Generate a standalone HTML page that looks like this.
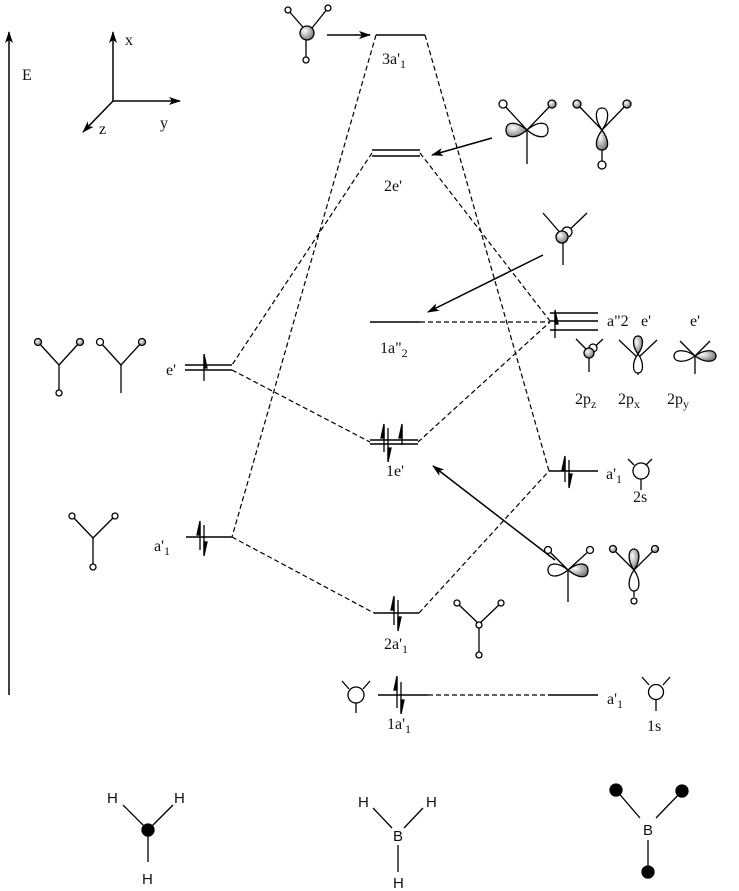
<!DOCTYPE html>
<html><head><meta charset="utf-8"><style>
html,body{margin:0;padding:0;background:#fff;}
svg{display:block;}
text{font-family:"Liberation Serif",serif;font-size:16px;fill:#111;}
.s{font-family:"Liberation Sans",sans-serif;font-size:15px;}
</style></head><body>
<svg width="739" height="891" viewBox="0 0 739 891" xmlns="http://www.w3.org/2000/svg">
<defs>
<radialGradient id="g" cx="0.35" cy="0.35" r="0.7"><stop offset="0" stop-color="#fff"/><stop offset="1" stop-color="#777"/></radialGradient>
<marker id="ah" markerWidth="12" markerHeight="8" refX="11" refY="4" orient="auto" markerUnits="userSpaceOnUse"><path d="M0,0 L12,4 L0,8 L3,4 Z" fill="#000"/></marker>
</defs>
<g stroke="#000" stroke-width="1.5" fill="none">
<line x1="9" y1="695" x2="9" y2="32" marker-end="url(#ah)"/>
<line x1="113" y1="101" x2="113" y2="32" marker-end="url(#ah)"/>
<line x1="113" y1="101" x2="180" y2="101" marker-end="url(#ah)"/>
<line x1="113" y1="101" x2="83" y2="132" marker-end="url(#ah)"/>
<line x1="376" y1="35" x2="425" y2="35"/>
<line x1="372" y1="150" x2="420" y2="150"/><line x1="372" y1="156" x2="420" y2="156"/>
<line x1="370" y1="322" x2="420" y2="322"/>
<line x1="550" y1="313" x2="598" y2="313"/><line x1="550" y1="321" x2="598" y2="321"/><line x1="550" y1="330" x2="598" y2="330"/>
<line x1="185" y1="365" x2="232" y2="365"/><line x1="185" y1="370" x2="232" y2="370"/>
<line x1="370" y1="440" x2="418" y2="440"/><line x1="370" y1="444" x2="418" y2="444"/>
<line x1="549" y1="471" x2="598" y2="471"/>
<line x1="186" y1="537" x2="232" y2="537"/>
<line x1="374" y1="613" x2="419" y2="613"/>
<line x1="378" y1="695" x2="428" y2="695"/>
<line x1="548" y1="695" x2="598" y2="695"/>
<line x1="327" y1="35" x2="370" y2="35" marker-end="url(#ah)"/>
<line x1="492" y1="138" x2="432" y2="155" marker-end="url(#ah)"/>
<line x1="543" y1="255" x2="428" y2="312" marker-end="url(#ah)"/>
<line x1="555" y1="560" x2="433" y2="466" marker-end="url(#ah)"/>
</g>
<g stroke="#000" stroke-width="1.2" fill="none" stroke-dasharray="5,3">
<line x1="376" y1="35" x2="232" y2="537"/>
<line x1="425" y1="35" x2="549" y2="471"/>
<line x1="372" y1="153" x2="232" y2="365"/>
<line x1="420" y1="153" x2="550" y2="321"/>
<line x1="232" y1="370" x2="370" y2="442"/>
<line x1="418" y1="442" x2="550" y2="322"/>
<line x1="420" y1="322" x2="550" y2="322"/>
<line x1="232" y1="537" x2="374" y2="613"/>
<line x1="419" y1="613" x2="549" y2="471"/>
<line x1="428" y1="695" x2="548" y2="695"/>
</g>
<g fill="#000" stroke="#000" stroke-width="1.3">
<line x1="204" y1="381" x2="204" y2="356"/><path d="M204,354 L207,368 L204,368Z"/>
<line x1="555" y1="338" x2="555" y2="312"/><path d="M555,310 L558,324 L555,324Z"/>
<line x1="384" y1="452" x2="384" y2="426"/><path d="M384,424 L381,438 L384,438Z"/>
<line x1="388" y1="428" x2="388" y2="460"/><path d="M388,462 L391,448 L388,448Z"/>
<line x1="402" y1="445" x2="402" y2="426"/><path d="M402,424 L399,438 L402,438Z"/>
<line x1="565" y1="482" x2="565" y2="458"/><path d="M565,456 L562,470 L565,470Z"/>
<line x1="569" y1="460" x2="569" y2="486"/><path d="M569,488 L572,474 L569,474Z"/>
<line x1="200" y1="550" x2="200" y2="523"/><path d="M200,521 L197,535 L200,535Z"/>
<line x1="204" y1="525" x2="204" y2="554"/><path d="M204,556 L207,542 L204,542Z"/>
<line x1="394" y1="625" x2="394" y2="598"/><path d="M394,596 L391,610 L394,610Z"/>
<line x1="398" y1="600" x2="398" y2="629"/><path d="M398,631 L401,617 L398,617Z"/>
<line x1="397" y1="708" x2="397" y2="678"/><path d="M397,676 L394,690 L397,690Z"/>
<line x1="401" y1="682" x2="401" y2="712"/><path d="M401,714 L404,700 L401,700Z"/>
</g>
<g stroke="#000" stroke-width="1.3" fill="#fff">
<line x1="288" y1="10" x2="308" y2="33"/><line x1="328" y1="8" x2="308" y2="33"/><line x1="306" y1="33" x2="306" y2="60"/>
<circle cx="288" cy="10" r="3"/><circle cx="328" cy="8" r="3"/><circle cx="306" cy="60" r="3"/>
<circle cx="307" cy="33" r="7" fill="url(#g)"/>
<line x1="503" y1="104" x2="527" y2="130"/><line x1="552" y1="104" x2="527" y2="130"/><line x1="527" y1="130" x2="527" y2="164"/>
<circle cx="503" cy="104" r="4"/><circle cx="552" cy="104" r="4" fill="url(#g)"/>
<path d="M527,130 C515,120 506,122 506,130 C506,138 515,140 527,130Z" fill="url(#g)"/>
<path d="M527,130 C539,120 548,122 548,130 C548,138 539,140 527,130Z"/>
<line x1="577" y1="104" x2="602" y2="130"/><line x1="627" y1="104" x2="602" y2="130"/><line x1="602" y1="130" x2="602" y2="162"/>
<circle cx="577" cy="104" r="4" fill="url(#g)"/><circle cx="627" cy="104" r="4" fill="url(#g)"/>
<path d="M602,130 C594,119 595,108 602,108 C609,108 610,119 602,130Z"/>
<path d="M602,130 C594,141 595,150 602,150 C609,150 610,141 602,130Z" fill="url(#g)"/>
<circle cx="602" cy="165" r="4"/>
<line x1="543" y1="213" x2="563" y2="236"/><line x1="587" y1="213" x2="563" y2="236"/><line x1="563" y1="236" x2="563" y2="265"/>
<circle cx="567" cy="232" r="5"/><circle cx="562" cy="237" r="6" fill="url(#g)"/>
<line x1="576" y1="339" x2="589" y2="352"/><line x1="603" y1="339" x2="589" y2="352"/><line x1="589" y1="352" x2="589" y2="372"/>
<circle cx="593" cy="348" r="4"/><circle cx="589" cy="353" r="5" fill="url(#g)"/>
<line x1="619" y1="340" x2="638" y2="358"/><line x1="657" y1="340" x2="638" y2="358"/><line x1="638" y1="358" x2="638" y2="375"/>
<path d="M638,354 C632,346 632,336 638,336 C644,336 644,346 638,354Z" fill="url(#g)"/>
<path d="M638,354 C632,362 632,373 638,373 C644,373 644,362 638,354Z"/>
<line x1="680" y1="341" x2="695" y2="356"/><line x1="710" y1="341" x2="695" y2="356"/><line x1="695" y1="356" x2="695" y2="374"/>
<path d="M695,356 C684,348 674,350 674,356 C674,362 684,364 695,356Z"/>
<path d="M695,356 C706,348 716,350 716,356 C716,362 706,364 695,356Z" fill="url(#g)"/>
<line x1="38" y1="342" x2="59" y2="365"/><line x1="80" y1="342" x2="59" y2="365"/><line x1="59" y1="365" x2="59" y2="392"/>
<circle cx="38" cy="342" r="3.5" fill="url(#g)"/><circle cx="80" cy="342" r="3.5" fill="url(#g)"/><circle cx="59" cy="393" r="3"/>
<line x1="100" y1="342" x2="121" y2="365"/><line x1="142" y1="342" x2="121" y2="365"/><line x1="121" y1="365" x2="121" y2="393"/>
<circle cx="100" cy="342" r="3.5"/><circle cx="142" cy="342" r="3.5" fill="url(#g)"/>
<line x1="628" y1="459" x2="634" y2="465"/><line x1="652" y1="459" x2="646" y2="465"/><line x1="641" y1="478" x2="641" y2="490"/>
<circle cx="641" cy="471" r="8"/>
<line x1="72" y1="516" x2="93" y2="538"/><line x1="115" y1="516" x2="93" y2="538"/><line x1="93" y1="538" x2="93" y2="566"/>
<circle cx="72" cy="516" r="3"/><circle cx="115" cy="516" r="3"/><circle cx="93" cy="567" r="3"/>
<line x1="548" y1="550" x2="568" y2="570"/><line x1="590" y1="550" x2="568" y2="570"/><line x1="568" y1="570" x2="568" y2="602"/>
<circle cx="548" cy="550" r="3.5"/><circle cx="590" cy="550" r="3.5"/>
<path d="M568,570 C557,561 548,563 548,570 C548,577 557,579 568,570Z"/>
<path d="M568,570 C579,561 588,563 588,570 C588,579 579,579 568,570Z" fill="url(#g)"/>
<line x1="613" y1="549" x2="634" y2="570"/><line x1="655" y1="549" x2="634" y2="570"/><line x1="634" y1="570" x2="634" y2="597"/>
<circle cx="613" cy="549" r="3.5" fill="url(#g)"/><circle cx="655" cy="549" r="3.5" fill="url(#g)"/>
<path d="M634,570 C627,560 628,549 634,549 C640,549 641,560 634,570Z" fill="url(#g)"/>
<path d="M634,570 C627,580 628,591 634,591 C640,591 641,580 634,570Z"/>
<circle cx="634" cy="601" r="3"/>
<line x1="457" y1="603" x2="479" y2="624"/><line x1="501" y1="603" x2="479" y2="624"/><line x1="479" y1="624" x2="479" y2="654"/>
<circle cx="457" cy="603" r="3"/><circle cx="501" cy="603" r="3"/><circle cx="479" cy="625" r="3"/><circle cx="479" cy="655" r="3"/>
<line x1="342" y1="681" x2="349" y2="689"/><line x1="370" y1="681" x2="363" y2="689"/><line x1="356" y1="703" x2="356" y2="713"/>
<circle cx="356" cy="695" r="8"/>
<line x1="642" y1="677" x2="649" y2="685"/><line x1="670" y1="677" x2="663" y2="685"/><line x1="656" y1="699" x2="656" y2="711"/>
<circle cx="656" cy="692" r="7.5"/>
<line x1="123" y1="805" x2="148" y2="830"/><line x1="173" y1="805" x2="148" y2="830"/><line x1="148" y1="830" x2="148" y2="862"/>
<circle cx="148" cy="830" r="6" fill="#000"/>
<line x1="373" y1="808" x2="392" y2="828"/><line x1="423" y1="808" x2="404" y2="828"/><line x1="398" y1="845" x2="398" y2="872"/>
<line x1="616" y1="790" x2="640" y2="818"/><line x1="682" y1="791" x2="656" y2="818"/>
<line x1="648" y1="840" x2="648" y2="872"/>
<circle cx="616" cy="790" r="6" fill="#000"/><circle cx="682" cy="791" r="6" fill="#000"/><circle cx="648" cy="872" r="6" fill="#000"/>
</g>
<text x="22" y="80">E</text>
<text x="125" y="45">x</text>
<text x="160" y="128">y</text>
<text x="99" y="134">z</text>
<text x="382" y="64">3a'<tspan font-size="12" dy="4">1</tspan></text>
<text x="384" y="191">2e'</text>
<text x="380" y="353">1a"<tspan font-size="12" dy="4">2</tspan></text>
<text x="607" y="326">a"2</text>
<text x="641" y="326">e'</text>
<text x="690" y="326">e'</text>
<text x="575" y="404">2p<tspan font-size="12" dy="4">z</tspan></text>
<text x="618" y="404">2p<tspan font-size="12" dy="4">x</tspan></text>
<text x="667" y="404">2p<tspan font-size="12" dy="4">y</tspan></text>
<text x="166" y="375">e'</text>
<text x="386" y="476">1e'</text>
<text x="606" y="479">a'<tspan font-size="12" dy="4">1</tspan></text>
<text x="633" y="502">2s</text>
<text x="154" y="551">a'<tspan font-size="12" dy="4">1</tspan></text>
<text x="384" y="649">2a'<tspan font-size="12" dy="4">1</tspan></text>
<text x="387" y="729">1a'<tspan font-size="12" dy="4">1</tspan></text>
<text x="607" y="704">a'<tspan font-size="12" dy="4">1</tspan></text>
<text x="647" y="731">1s</text>
<text class="s" x="107" y="803">H</text>
<text class="s" x="174" y="803">H</text>
<text class="s" x="142" y="884">H</text>
<text class="s" x="358" y="807">H</text>
<text class="s" x="426" y="807">H</text>
<text class="s" x="393" y="841">B</text>
<text class="s" x="393" y="888">H</text>
<text class="s" x="643" y="835">B</text>
</svg>
</body></html>
